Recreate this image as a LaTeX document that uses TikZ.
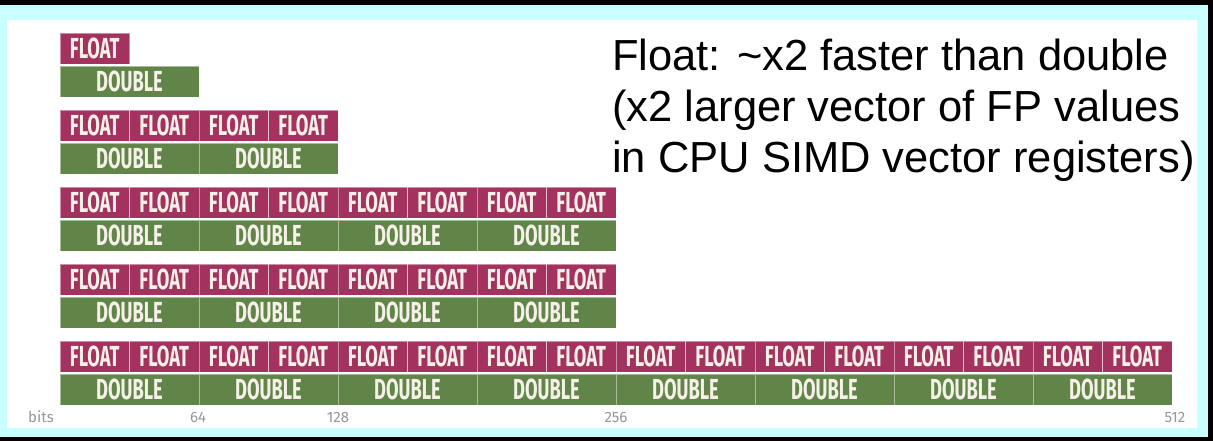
\documentclass[tikz,border=0pt]{standalone}
\usepackage{fontspec}
\setmainfont{Liberation Sans}
\newfontfamily\cellfont[FakeStretch=0.63]{Fira Sans}
\newfontfamily\axisfont{Fira Sans}
\definecolor{fcol}{RGB}{163,50,94}
\definecolor{dcol}{RGB}{97,132,72}
\definecolor{celltext}{RGB}{246,241,232}
\definecolor{cyanbg}{RGB}{200,255,255}
\definecolor{axisgray}{RGB}{150,150,150}
\begin{document}
\begin{tikzpicture}[x=1pt,y=-1pt,
  cell/.style={draw=white, draw opacity=0.45, line width=0.8pt, inner sep=0pt, outer sep=0pt,
    minimum height=31pt, anchor=north west, text=celltext,
    font=\cellfont\bfseries\fontsize{29}{29}\selectfont},
  flt/.style={cell, fill=fcol, minimum width=69.5pt},
  dbl/.style={cell, fill=dcol, minimum width=139pt},
  axis/.style={text=axisgray, font=\axisfont\fontsize{15}{15}\selectfont, anchor=base},
  note/.style={anchor=base west, font=\fontsize{43.5}{51}\selectfont, inner sep=0pt}]
\useasboundingbox (0,0) rectangle (1213,441);
\fill[cyanbg] (0,0) rectangle (1213,441);
\fill[white] (7,20) rectangle (1197,428);
\fill[black] (0,0) rectangle (1213,5);
\fill[black] (1208,0) rectangle (1213,441);
\fill[black] (0,437) rectangle (1213,441);
\foreach \r/\top/\n/\m in {1/33/1/1, 2/110/4/2, 3/187/8/4, 4/264/8/4, 5/341/16/8} {
  \foreach \i in {1,...,\n} {
    \node[flt] (f\r-\i) at ({60+(\i-1)*69.5},\top) {FLOAT};
  }
  \foreach \j in {1,...,\m} {
    \node[dbl] (d\r-\j) at ({60+(\j-1)*139},\top+33) {DOUBLE};
  }
}
\node[axis] (bits) at (41,422) {bits};
\node[axis] (t64) at (198,422) {64};
\node[axis] (t128) at (338,422) {128};
\node[axis] (t256) at (616,422) {256};
\node[axis] (t512) at (1175,422) {512};
\node[note] (note1) at (612,71) {Float: \char"007E x2 faster than double};
\node[note] (note2) at (612,122) {(x2 larger vector of FP values};
\node[note] (note3) at (612,172) {in CPU SIMD vector registers)};
\end{tikzpicture}
\end{document}
